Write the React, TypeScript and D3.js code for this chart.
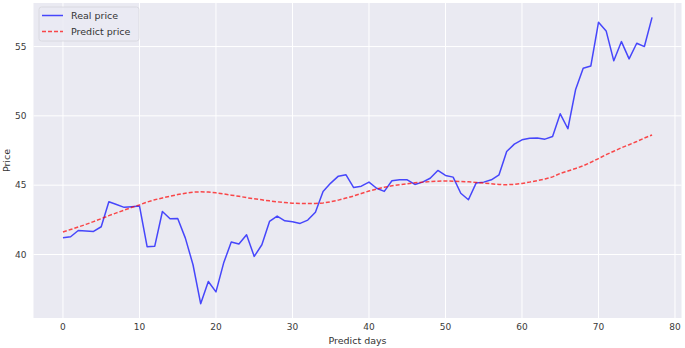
import React, { useEffect, useRef } from 'react';
import * as d3 from 'd3';

// values, one per predict day (0..77)
const realPrice = [
  41.2, 41.28, 41.73, 41.7, 41.66, 42.0, 43.8, 43.6, 43.4, 43.45,
  43.5, 40.56, 40.6, 43.1, 42.58, 42.6, 41.18, 39.26, 36.45, 38.05,
  37.3, 39.38, 40.9, 40.75, 41.42, 39.86, 40.7, 42.38, 42.77, 42.43,
  42.36, 42.24, 42.48, 43.05, 44.55, 45.15, 45.65, 45.75, 44.83, 44.93,
  45.22, 44.78, 44.55, 45.32, 45.39, 45.39, 45.05, 45.22, 45.5, 46.06,
  45.7, 45.58, 44.42, 43.95, 45.15, 45.22, 45.39, 45.75, 47.43, 47.96,
  48.27, 48.39, 48.4, 48.32, 48.51, 50.15, 49.07, 51.88, 53.44, 53.6,
  56.75, 56.13, 53.97, 55.36, 54.11, 55.24, 55.0, 57.11,
];

const predictPrice = [
  41.62, 41.8, 41.98, 42.17, 42.37, 42.58, 42.8, 43.0, 43.2, 43.4,
  43.58, 43.78, 43.95, 44.08, 44.2, 44.32, 44.42, 44.5, 44.52, 44.5,
  44.45, 44.37, 44.28, 44.2, 44.1, 44.02, 43.94, 43.87, 43.8, 43.75,
  43.7, 43.68, 43.67, 43.68, 43.72, 43.8, 43.92, 44.07, 44.22, 44.4,
  44.58, 44.72, 44.85, 44.95, 45.03, 45.1, 45.17, 45.22, 45.26, 45.29,
  45.3, 45.29, 45.27, 45.24, 45.2, 45.15, 45.1, 45.05, 45.03, 45.06,
  45.12, 45.22, 45.33, 45.45, 45.6, 45.85, 46.02, 46.2, 46.4, 46.65,
  46.92, 47.2, 47.45, 47.7, 47.92, 48.15, 48.4, 48.62,
];

const xTicks = [0, 10, 20, 30, 40, 50, 60, 70, 80];
const yTicks = [40, 45, 50, 55];
const seriesNames = ['Real price', 'Predict price'];

const W = 685, H = 348;
const margin = { top: 3, right: 3.5, bottom: 30, left: 33.5 };
const FONT = '"DejaVu Sans", sans-serif';

export default function App() {
  const ref = useRef<SVGSVGElement>(null);

  useEffect(() => {
    const svg = d3.select(ref.current);
    svg.selectAll('*').remove();

    const w = W - margin.left - margin.right;
    const h = H - margin.top - margin.bottom;
    const g = svg.append('g').attr('transform', `translate(${margin.left},${margin.top})`);

    const n = realPrice.length - 1;
    const x = d3.scaleLinear().domain([-n * 0.05, n * 1.05]).range([0, w]);

    const all = realPrice.concat(predictPrice);
    const lo = d3.min(all)!, hi = d3.max(all)!;
    const pad = (hi - lo) * 0.05;
    const y = d3.scaleLinear().domain([lo - pad, hi + pad]).range([h, 0]);

    g.append('rect').attr('width', w).attr('height', h).attr('fill', '#eaeaf2');

    // grid
    g.selectAll('.vgrid').data(xTicks.filter(t => x(t) <= w)).join('line')
      .attr('x1', d => x(d)).attr('x2', d => x(d)).attr('y1', 0).attr('y2', h)
      .attr('stroke', '#fff').attr('stroke-width', 1);
    g.selectAll('.hgrid').data(yTicks).join('line')
      .attr('y1', d => y(d)).attr('y2', d => y(d)).attr('x1', 0).attr('x2', w)
      .attr('stroke', '#fff').attr('stroke-width', 1);

    // tick labels
    g.selectAll('.xt').data(xTicks).join('text')
      .attr('x', d => x(d)).attr('y', h + 12)
      .attr('text-anchor', 'middle').attr('font-size', 9).attr('font-family', FONT)
      .attr('fill', '#3a3a3a').text(d => d);
    g.selectAll('.yt').data(yTicks).join('text')
      .attr('x', -7).attr('y', d => y(d)).attr('dy', '0.35em')
      .attr('text-anchor', 'end').attr('font-size', 9).attr('font-family', FONT)
      .attr('fill', '#3a3a3a').text(d => d);

    // axis labels
    svg.append('text').attr('x', margin.left + w / 2).attr('y', H - 4)
      .attr('text-anchor', 'middle').attr('font-size', 9.5).attr('font-family', FONT)
      .attr('fill', '#333').text('Predict days');
    svg.append('text').attr('transform', `translate(10,${margin.top + h / 2}) rotate(-90)`)
      .attr('text-anchor', 'middle').attr('font-size', 9.5).attr('font-family', FONT)
      .attr('fill', '#333').text('Price');

    const line = d3.line<number>().x((_, i) => x(i)).y(d => y(d));

    g.append('path').datum(realPrice).attr('d', line)
      .attr('fill', 'none').attr('stroke', '#0000ff').attr('stroke-opacity', 0.7)
      .attr('stroke-width', 1.5).attr('stroke-linejoin', 'round');
    g.append('path').datum(predictPrice).attr('d', line)
      .attr('fill', 'none').attr('stroke', '#ff0000').attr('stroke-opacity', 0.7)
      .attr('stroke-width', 1.5).attr('stroke-dasharray', '4,2');

    // legend
    const lg = svg.append('g').attr('transform', 'translate(39,7)');
    lg.append('rect').attr('width', 100).attr('height', 34).attr('rx', 2.5)
      .attr('fill', '#eaeaf2').attr('fill-opacity', 0.8)
      .attr('stroke', '#d6d6dc').attr('stroke-width', 0.8);
    const items = lg.selectAll('.li').data(seriesNames).join('g')
      .attr('transform', (_, i) => `translate(0,${8.5 + i * 16})`);
    items.append('line').attr('x1', 3).attr('x2', 24).attr('y1', 0).attr('y2', 0)
      .attr('stroke', (_, i) => (i === 0 ? '#0000ff' : '#ff0000')).attr('stroke-opacity', 0.7)
      .attr('stroke-width', 1.5).attr('stroke-dasharray', (_, i) => (i === 0 ? null : '4,2'));
    items.append('text').attr('x', 32).attr('y', 0).attr('dy', '0.35em')
      .attr('font-size', 9.5).attr('font-family', FONT).attr('fill', '#333')
      .text(d => d);
  }, []);

  return (
    <svg ref={ref} width={W} height={H}
      style={{ position: 'absolute', left: 0, top: 0, background: '#fff' }} />
  );
}
